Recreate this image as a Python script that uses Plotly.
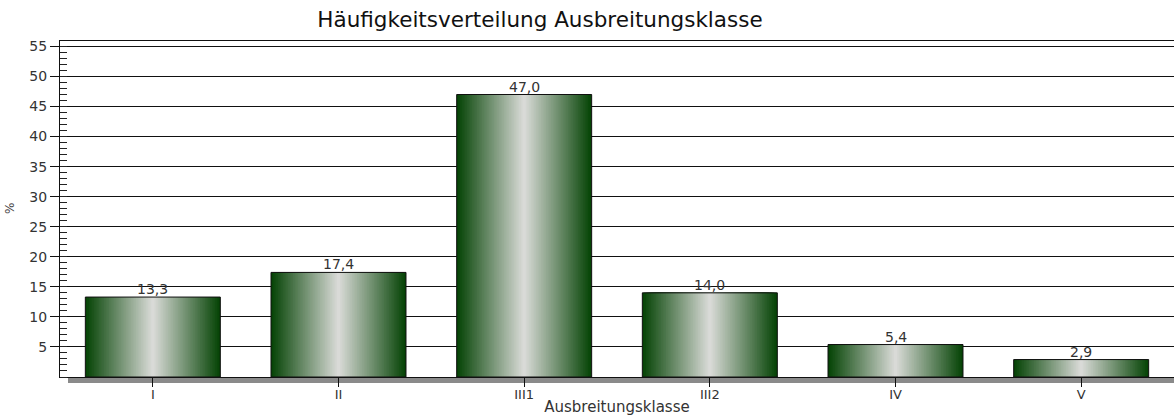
import plotly.graph_objects as go

# Frequency distribution per dispersion class (percent)
categories = ["I", "II", "III1", "III2", "IV", "V"]
values = [13.3, 17.4, 47.0, 14.0, 5.4, 2.9]
y_ticks = [5, 10, 15, 20, 25, 30, 35, 40, 45, 50, 55]

x_pos = list(range(len(categories)))
labels = [f"{v:.1f}".replace(".", ",") for v in values]

FONT = "DejaVu Sans, Verdana, Arial"
BAR_W = 0.727
EDGE = (6, 68, 6)         # dark green at bar edges
CENTER = (222, 222, 220)  # light grey in the middle
STEPS = 40

fig = go.Figure()

# Cylinder-like shading: stack ever narrower bars with lighter colours
for k in range(STEPS):
    t = 1 - k / STEPS  # 1 at the edge, ->0 towards the centre
    col = tuple(round(c + (e - c) * t) for e, c in zip(EDGE, CENTER))
    fig.add_trace(go.Bar(
        x=x_pos, y=values, width=BAR_W * (1 - k / STEPS),
        marker=dict(color=f"rgb{col}", line=dict(width=0)),
        hoverinfo="skip", showlegend=False,
    ))

# Outline on top of the shading
fig.add_trace(go.Bar(
    x=x_pos, y=values, width=BAR_W,
    marker=dict(color="rgba(0,0,0,0)", line=dict(color="#101010", width=1)),
    showlegend=False,
))

# Value labels sitting right on the bar tops
value_labels = [
    dict(text=lab, x=xp, y=v, xref="x", yref="y",
         xanchor="center", yanchor="bottom", yshift=-2, showarrow=False,
         font=dict(family=FONT, size=14, color="#333333"))
    for xp, v, lab in zip(x_pos, values, labels)
]

fig.update_layout(
    width=1174, height=416,
    margin=dict(l=60, r=0, t=41, b=39),
    barmode="overlay",
    paper_bgcolor="white", plot_bgcolor="white",
    font=dict(family=FONT, color="#333333"),
    title=dict(text="Häufigkeitsverteilung Ausbreitungsklasse",
               x=540 / 1174, xanchor="center", y=0.952, yanchor="middle",
               font=dict(family=FONT, size=21.5, color="#111111")),
    xaxis=dict(
        range=[-0.5, len(categories) - 0.5],
        tickvals=x_pos, ticktext=categories,
        ticks="outside", ticklen=9, tickcolor="#111111",
        ticklabelstandoff=-4,
        tickfont=dict(family=FONT, size=13, color="#333333"),
        showgrid=False, zeroline=False,
        showline=True, linecolor="#111111", linewidth=1, mirror=True,
        title=dict(text="Ausbreitungsklasse", standoff=1,
                   font=dict(family=FONT, size=15, color="#333333")),
    ),
    xaxis2=dict(
        overlaying="x", anchor="y", side="bottom",
        range=[-0.5, len(categories) - 0.5],
        tickvals=x_pos, showticklabels=False,
        ticks="inside", ticklen=8, tickcolor="#111111",
        showgrid=False, zeroline=False, showline=False,
    ),
    yaxis=dict(
        range=[0, 55.9],
        tickvals=y_ticks,
        ticks="outside", ticklen=9, tickcolor="#111111",
        tickfont=dict(family=FONT, size=14, color="#333333"),
        showgrid=True, gridcolor="#111111", gridwidth=1,
        zeroline=False,
        showline=True, linecolor="#111111", linewidth=1,
        minor=dict(dtick=1, tick0=0, ticks="inside", ticklen=7,
                   tickcolor="#222222", showgrid=False),
    ),
    shapes=[
        # grey floor strip under the baseline
        dict(type="rect", xref="paper", yref="paper",
             x0=8 / 1114, x1=1, y0=-6 / 336, y1=0,
             fillcolor="#8a8a8a", line=dict(width=0), layer="below"),
    ],
    annotations=value_labels + [
        dict(text="%", xref="paper", yref="paper", x=-50 / 1114, y=0.5,
             xanchor="center", yanchor="middle", textangle=-90,
             showarrow=False, font=dict(family=FONT, size=12, color="#444444")),
    ],
)

fig.write_html("out.html")
